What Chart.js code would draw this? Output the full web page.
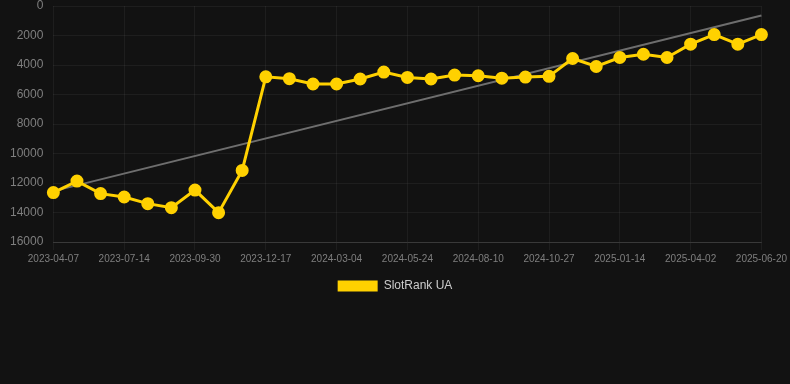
<!DOCTYPE html>
<html>
<head>
<meta charset="utf-8">
<script src="https://cdn.jsdelivr.net/npm/chart.js@4/dist/chart.umd.min.js"></script>
<style>
  html, body { margin: 0; padding: 0; background: #121212; }
  #wrap { width: 790px; height: 302px; position: relative; }
</style>
</head>
<body>
<div id="wrap"><canvas id="c"></canvas></div>
<script>
const categories = [
  '2023-04-07','2023-05-10','2023-06-12','2023-07-14','2023-08-09','2023-09-04',
  '2023-09-30','2023-10-26','2023-11-21','2023-12-17','2024-01-12','2024-02-07',
  '2024-03-04','2024-03-31','2024-04-27','2024-05-24','2024-06-19','2024-07-15',
  '2024-08-10','2024-09-05','2024-10-01','2024-10-27','2024-11-22','2024-12-19',
  '2025-01-14','2025-02-09','2025-03-07','2025-04-02','2025-04-28','2025-05-25',
  '2025-06-20'
];
const slotRankUA = [
  12650, 11870, 12720, 12950, 13400, 13670, 12480, 14010, 11150, 4800,
  4930, 5290, 5290, 4950, 4480, 4840, 4950, 4680, 4730, 4890,
  4820, 4770, 3560, 4100, 3490, 3270, 3490, 2590, 1940, 2590,
  1940
];
const trendEnds = [12550, 650];
const yTicks = [0, 2000, 4000, 6000, 8000, 10000, 12000, 14000, 16000];

const trend = categories.map((_, i) =>
  i === 0 ? trendEnds[0] : (i === categories.length - 1 ? trendEnds[1] : null));

new Chart(document.getElementById('c'), {
  type: 'line',
  data: {
    labels: categories,
    datasets: [
      {
        label: 'SlotRank UA',
        data: slotRankUA,
        borderColor: '#FFD100',
        backgroundColor: '#FFD100',
        borderWidth: 3,
        pointRadius: 5,
        pointHoverRadius: 6,
        pointBackgroundColor: '#FFD100',
        pointBorderColor: '#FFD100',
        tension: 0,
        order: 1
      },
      {
        label: 'Trend',
        data: trend,
        spanGaps: true,
        borderColor: '#6e6e6e',
        borderWidth: 2,
        pointRadius: 0,
        pointHoverRadius: 0,
        order: 2
      }
    ]
  },
  options: {
    responsive: true,
    maintainAspectRatio: false,
    animation: false,
    layout: { autoPadding: false, padding: { top: 0, right: 0, left: 0, bottom: 0 } },
    scales: {
      x: {
        grid: { color: 'rgba(255,255,255,0.05)', drawTicks: true, tickLength: 8 },
        border: { color: 'rgba(255,255,255,0.12)' },
        ticks: {
          color: '#7f7f7f',
          font: { family: 'Liberation Sans, Arial', size: 10 },
          maxRotation: 0,
          autoSkip: false,
          padding: 3,
          callback: function(v, i) { return i % 3 === 0 ? categories[i] : null; }
        }
      },
      y: {
        reverse: true,
        min: yTicks[0],
        max: yTicks[yTicks.length - 1],
        grid: { color: 'rgba(255,255,255,0.05)', drawTicks: false },
        border: { display: false },
        afterBuildTicks: (s) => { s.ticks = yTicks.map(v => ({ value: v })); },
        afterFit: (s) => { s.paddingTop = 6; s.paddingBottom = 6; },
        ticks: {
          color: '#7f7f7f',
          font: { family: 'Liberation Sans, Arial', size: 12 },
          padding: 10,
          callback: (v) => String(v)
        }
      }
    },
    plugins: {
      legend: {
        position: 'bottom',
        labels: {
          color: '#cccccc',
          font: { family: 'Liberation Sans, Arial', size: 12 },
          boxWidth: 40,
          boxHeight: 11,
          padding: 12,
          filter: (item) => item.text === 'SlotRank UA',
          generateLabels: (chart) => {
            const items = Chart.defaults.plugins.legend.labels.generateLabels(chart);
            items.forEach(it => { it.lineWidth = 0; });
            return items;
          }
        }
      },
      tooltip: { enabled: true }
    }
  }
});
</script>
</body>
</html>
